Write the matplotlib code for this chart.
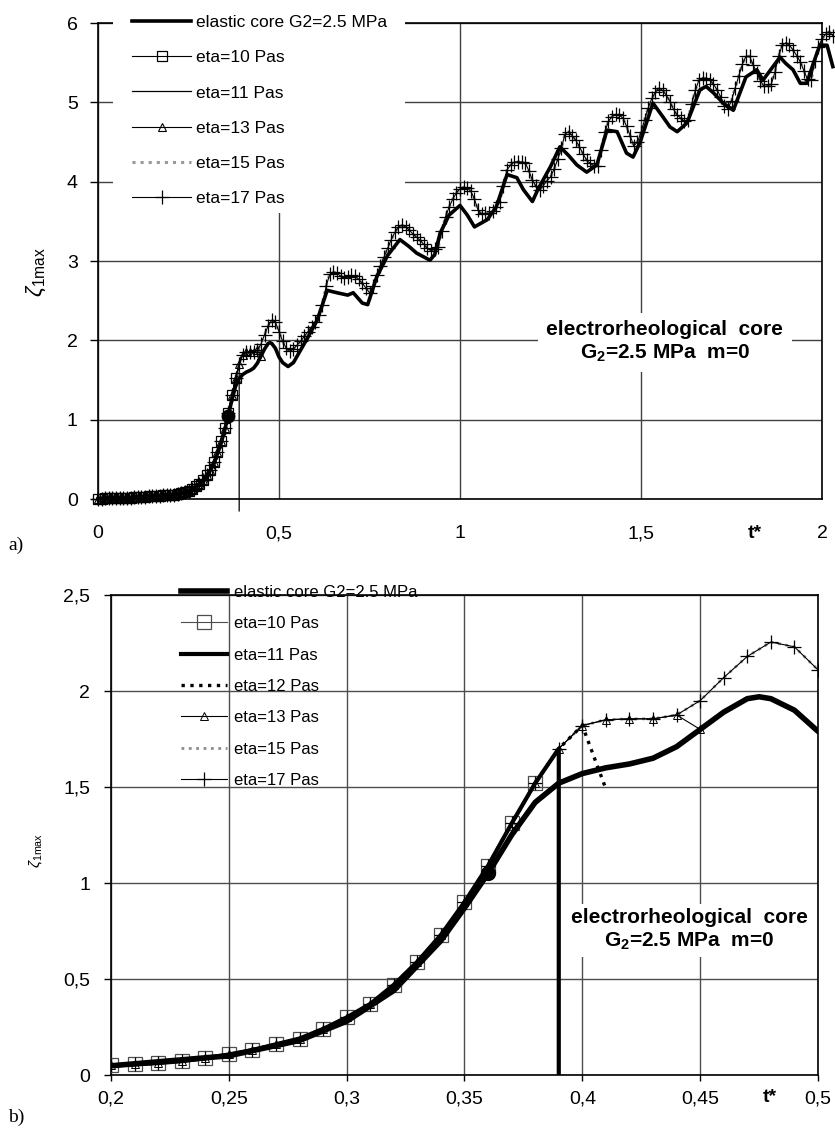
import numpy as np
import matplotlib
matplotlib.use('Agg')
import matplotlib.pyplot as plt
from matplotlib.ticker import FuncFormatter
from matplotlib.patches import Rectangle

plt.rcParams['font.family'] = ['Liberation Sans', 'DejaVu Sans']
plt.rcParams['mathtext.fontset'] = 'custom'
plt.rcParams['mathtext.rm'] = 'Liberation Sans'
plt.rcParams['mathtext.bf'] = 'Liberation Sans:bold'
plt.rcParams['mathtext.it'] = 'Liberation Sans:italic'

# ---- data ----
# eta=17 Pas (and eta=15, which lies on top of it), one value each 0.01 of t*
t_grid = np.round(np.arange(0, 2.035, 0.01), 2)
eta17 = [0.005, 0.006, 0.007, 0.008, 0.009, 0.010, 0.012, 0.013, 0.015, 0.017,
         0.019, 0.022, 0.025, 0.029, 0.033, 0.037, 0.040, 0.042, 0.045, 0.048,
         0.050, 0.055, 0.062, 0.072, 0.087, 0.107, 0.130, 0.160, 0.190, 0.240,
         0.300, 0.370, 0.470, 0.590, 0.730, 0.900, 1.090, 1.310, 1.520, 1.700,
         1.820, 1.850, 1.855, 1.855, 1.875, 1.950, 2.070, 2.180, 2.255, 2.230,
         2.11, 1.99, 1.90, 1.86, 1.89, 1.94, 1.99, 2.05, 2.11, 2.17,
         2.23, 2.32, 2.44, 2.68, 2.83, 2.86, 2.85, 2.81, 2.79, 2.80,
         2.82, 2.81, 2.77, 2.72, 2.66, 2.60, 2.68, 2.82, 2.94, 3.05,
         3.16, 3.27, 3.36, 3.43, 3.45, 3.43, 3.39, 3.34, 3.30, 3.26,
         3.21, 3.16, 3.13, 3.15, 3.18, 3.38, 3.56, 3.68, 3.78, 3.86,
         3.91, 3.93, 3.92, 3.88, 3.78, 3.64, 3.59, 3.60, 3.60, 3.63,
         3.68, 3.75, 3.95, 4.15, 4.21, 4.25, 4.25, 4.25, 4.24, 4.14,
         4.02, 3.94, 3.90, 3.95, 4.01, 4.06, 4.16, 4.28, 4.42, 4.60,
         4.63, 4.58, 4.52, 4.44, 4.35, 4.27, 4.23, 4.20, 4.20, 4.40,
         4.62, 4.76, 4.82, 4.85, 4.84, 4.80, 4.70, 4.58, 4.45, 4.50,
         4.62, 4.78, 4.93, 5.05, 5.13, 5.18, 5.15, 5.09, 5.01, 4.91,
         4.84, 4.80, 4.76, 4.78, 4.98, 5.15, 5.28, 5.31, 5.30, 5.28,
         5.23, 5.16, 5.07, 4.96, 4.92, 5.02, 5.18, 5.33, 5.48, 5.58,
         5.58, 5.47, 5.37, 5.27, 5.20, 5.21, 5.23, 5.38, 5.58, 5.72,
         5.75, 5.72, 5.66, 5.59, 5.51, 5.40, 5.29, 5.28, 5.52, 5.70,
         5.80, 5.86, 5.89, 5.84]
eta15 = eta17

# the other viscosities follow the same path and then break off
n10 = 39          # eta=10 ends at t*=0.38
n11 = 40          # eta=11 ends at t*=0.39, then falls
eta11_drop = -0.15
n12 = 41          # eta=12 (panel b) ends at 0.40
eta12_end = (0.41, 1.49)
n13 = 45          # eta=13 ends at 0.44
eta13_end = (0.45, 1.80)

# elastic core G2=2.5 MPa
el_t = [0, 0.05, 0.1, 0.15, 0.2, 0.25, 0.28, 0.3, 0.32, 0.34,
        0.35, 0.36, 0.37, 0.38, 0.39, 0.40, 0.41, 0.42, 0.43, 0.44,
        0.45, 0.46, 0.47, 0.475, 0.48, 0.49, 0.50, 0.51, 0.525, 0.54,
        0.55, 0.58, 0.605, 0.62, 0.633, 0.66, 0.69, 0.705, 0.73, 0.745,
        0.77, 0.80, 0.834, 0.86, 0.88, 0.917, 0.93, 0.945, 0.97, 1.0,
        1.02, 1.04, 1.075, 1.10, 1.13, 1.157, 1.175, 1.20, 1.215, 1.25,
        1.276, 1.30, 1.323, 1.35, 1.378, 1.406, 1.434, 1.46, 1.478, 1.497,
        1.533, 1.56, 1.58, 1.60, 1.627, 1.663, 1.68, 1.70, 1.727, 1.755,
        1.79, 1.82, 1.837, 1.884, 1.90, 1.92, 1.94, 1.958, 1.976, 1.994,
        2.014, 2.03]
el_y = [0.004, 0.008, 0.017, 0.035, 0.048, 0.10, 0.18, 0.28, 0.44, 0.70,
        0.87, 1.05, 1.25, 1.42, 1.52, 1.57, 1.60, 1.62, 1.65, 1.71,
        1.80, 1.89, 1.96, 1.97, 1.96, 1.90, 1.79, 1.72, 1.67, 1.72,
        1.80, 2.04, 2.25, 2.45, 2.63, 2.60, 2.57, 2.60, 2.47, 2.45,
        2.80, 3.07, 3.27, 3.18, 3.10, 3.01, 3.08, 3.35, 3.58, 3.70,
        3.58, 3.43, 3.52, 3.68, 4.09, 4.05, 3.90, 3.75, 3.90, 4.19,
        4.44, 4.33, 4.21, 4.12, 4.21, 4.65, 4.63, 4.36, 4.31, 4.49,
        4.99, 4.82, 4.69, 4.63, 4.74, 5.16, 5.20, 5.12, 4.99, 4.90,
        5.32, 5.41, 5.28, 5.57, 5.49, 5.41, 5.24, 5.24, 5.49, 5.72,
        5.72, 5.45]

dot = (0.36, 1.05)

xt_a = [0, 0.5, 1, 1.5, 2]
yt_a = [0, 1, 2, 3, 4, 5, 6]
xt_b = [0.2, 0.25, 0.3, 0.35, 0.4, 0.45, 0.5]
yt_b = [0, 0.5, 1, 1.5, 2, 2.5]

note1 = 'electrorheological  core'
note2 = r'G$_{\mathbf{2}}$=2.5 MPa  m=0'


def comma(v, pos):
    s = ('%g' % v).replace('.', ',')
    return s


t = t_grid
e17 = np.array(eta17)
e15 = np.array(eta15)

W, H = 835, 1131
fig = plt.figure(figsize=(W / 100, H / 100), dpi=100)

# ---------------- panel a ----------------
ax1 = fig.add_axes([98 / W, 1 - 499 / H, 724 / W, 476 / H])
ax1.set_xlim(0, 2)
ax1.set_ylim(0, 6)
co = dict(clip_on=False)
ax1.plot(el_t, el_y, color='k', lw=2.6, label='elastic core G2=2.5 MPa', zorder=4, **co)
ax1.plot(t[:n10], e17[:n10], color='k', lw=0.8, marker='s', ms=7, mfc='none', mec='k',
         mew=0.9, label='eta=10 Pas', zorder=3, **co)
ax1.plot(np.append(t[:n11], t[n11 - 1]), np.append(e17[:n11], eta11_drop), color='k', lw=0.9,
         label='eta=11 Pas', zorder=3, **co)
ax1.plot(np.append(t[:n13], eta13_end[0]), np.append(e17[:n13], eta13_end[1]), color='k', lw=0.8,
         marker='^', ms=6, mfc='none', mec='k', mew=0.8, label='eta=13 Pas', zorder=3, **co)
ax1.plot(t, e15, color='0.6', lw=2.2, ls=':', label='eta=15 Pas', zorder=2, **co)
ax1.plot(t, e17, color='k', lw=0.8, marker='+', ms=10, mew=0.9, label='eta=17 Pas', zorder=3, **co)
ax1.plot(*dot, 'o', color='k', ms=9, zorder=5, **co)

ax1.set_xticks(xt_a)
ax1.set_yticks(yt_a)
ax1.xaxis.set_major_formatter(FuncFormatter(comma))
ax1.yaxis.set_major_formatter(FuncFormatter(comma))
ax1.tick_params(axis='y', direction='out', length=6, width=1, labelsize=14, pad=8.5)
ax1.tick_params(axis='x', direction='out', length=0, width=1, labelsize=14, pad=19)
ax1.grid(True, color='0.25', lw=1)
for s in ax1.spines.values():
    s.set_linewidth(1.2)
# white area behind the legend, hiding the grid and the top frame there
ax1.add_patch(Rectangle((113 / W, 1 - 213 / H), 292 / W, 203 / H, transform=fig.transFigure,
                        facecolor='white', edgecolor='none', clip_on=False, zorder=9))
leg1 = ax1.legend(loc='upper left', bbox_to_anchor=(0.039, 1.03), borderaxespad=0,
                  fontsize=12.5, frameon=False, numpoints=1, handlelength=3.4,
                  handletextpad=0.25, labelspacing=1.16, borderpad=0.35)
leg1.set_zorder(10)
ax1.text(1.566, 1.98, note1 + '\n' + note2, ha='center', va='center', fontsize=15,
         fontweight='bold', linespacing=1.25, zorder=8,
         bbox=dict(facecolor='white', edgecolor='none', pad=6))
fig.text(755 / W, 1 - 533 / H, 't*', ha='center', va='center', fontsize=14, fontweight='bold')
fig.text(36 / W, 1 - 272 / H, r'$\zeta_{\mathrm{1max}}$', rotation=90, ha='center', va='center',
         fontsize=16)
fig.text(8 / W, 1 - 545 / H, 'a)', family='Liberation Serif', fontsize=14, ha='left', va='center')

# ---------------- panel b ----------------
ax2 = fig.add_axes([111 / W, 1 - 1075 / H, 707 / W, 480 / H])
ax2.set_xlim(0.2, 0.5)
ax2.set_ylim(0, 2.5)
ax2.plot(el_t, el_y, color='k', lw=4, label='elastic core G2=2.5 MPa', zorder=4)
ax2.plot(t[:n10], e17[:n10], color='0.3', lw=0.8, marker='s', ms=10.5, mfc='none', mec='0.3',
         mew=0.9, label='eta=10 Pas', zorder=3)
ax2.plot(np.append(t[:n11], t[n11 - 1]), np.append(e17[:n11], eta11_drop), color='k', lw=3,
         label='eta=11 Pas', zorder=4)
ax2.plot(np.append(t[:n12], eta12_end[0]), np.append(e17[:n12], eta12_end[1]), color='k', lw=2.4,
         ls=':', label='eta=12 Pas', zorder=3)
ax2.plot(np.append(t[:n13], eta13_end[0]), np.append(e17[:n13], eta13_end[1]), color='k', lw=0.8,
         marker='^', ms=5.5, mfc='none', mec='k', mew=0.7, label='eta=13 Pas', zorder=3)
ax2.plot(t, e15, color='0.55', lw=2, ls=':', label='eta=15 Pas', zorder=2)
ax2.plot(t, e17, color='k', lw=0.8, marker='+', ms=10, mew=0.9, label='eta=17 Pas', zorder=3)
ax2.plot(*dot, 'o', color='k', ms=10, zorder=5)

ax2.set_xticks(xt_b)
ax2.set_yticks(yt_b)
ax2.xaxis.set_major_formatter(FuncFormatter(comma))
ax2.yaxis.set_major_formatter(FuncFormatter(comma))
ax2.tick_params(axis='y', direction='out', length=5, width=1, labelsize=14, pad=10)
ax2.tick_params(axis='x', direction='out', length=4, width=1, labelsize=14, pad=7)
ax2.grid(True, color='0.3', lw=1)
for s in ax2.spines.values():
    s.set_linewidth(1.2)
leg2 = ax2.legend(loc='upper left', bbox_to_anchor=(0.09, 1.035), borderaxespad=0,
                  fontsize=12, frameon=False, numpoints=1, handlelength=2.75,
                  handletextpad=0.4, labelspacing=0.98, borderpad=0.4)
leg2.set_zorder(10)
ax2.text(0.4453, 0.755, note1 + '\n' + note2, ha='center', va='center', fontsize=15,
         fontweight='bold', linespacing=1.2, zorder=8,
         bbox=dict(facecolor='white', edgecolor='none', pad=4))
fig.text(770 / W, 1 - 1097 / H, 't*', ha='center', va='center', fontsize=14, fontweight='bold')
fig.text(36 / W, 1 - 850 / H, r'$\zeta_{\mathrm{1max}}$', rotation=90, ha='center', va='center',
         fontsize=11)
fig.text(8 / W, 1 - 1117 / H, 'b)', family='Liberation Serif', fontsize=14, ha='left', va='center')

fig.savefig('out.png', dpi=100)
